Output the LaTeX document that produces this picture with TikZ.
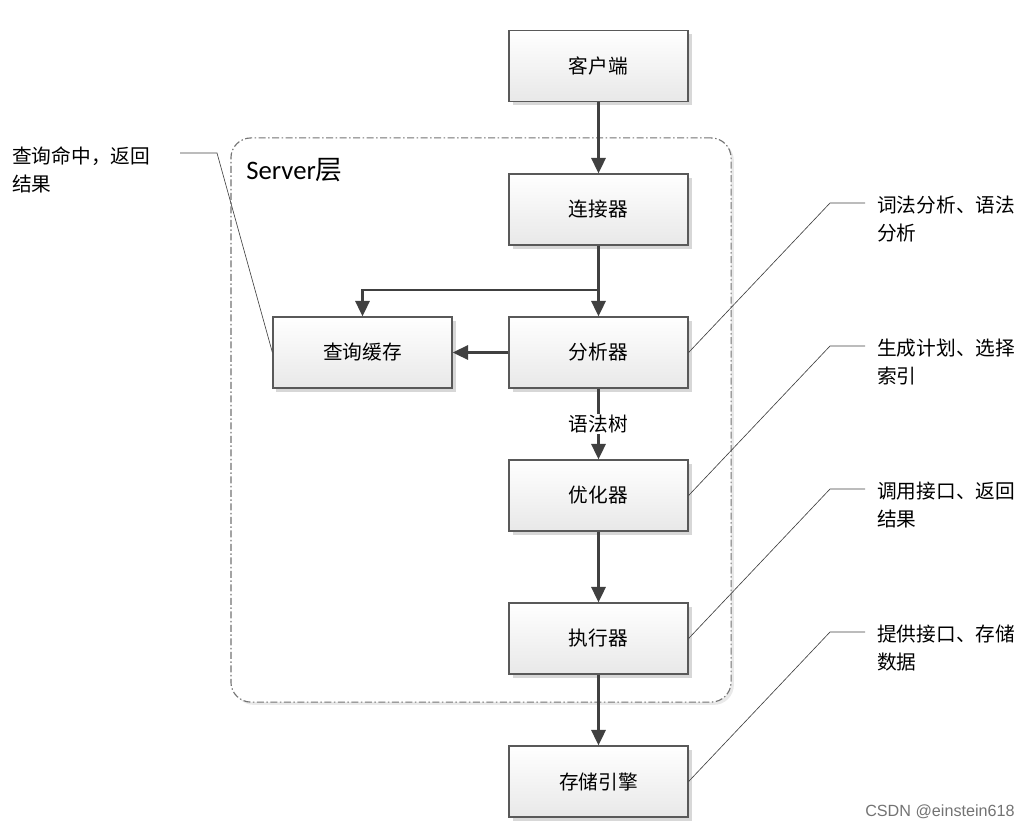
\documentclass[tikz,border=0pt]{standalone}
\usepackage{fontspec}
\setmainfont{Noto Sans CJK SC}
\newfontfamily\latinfont{Carlito}
\newfontfamily\markfont{Liberation Sans}
\usetikzlibrary{positioning,shadows,arrows.meta}
\tikzset{stage/.style={draw=black!65,line width=0.8pt,top color=white,bottom color=black!9,
  minimum width=4.475cm,minimum height=1.775cm,inner sep=0pt,font=\fontsize{14}{18}\selectfont,
  drop shadow={shadow xshift=2.5pt,shadow yshift=-2.5pt,fill=black!22,opacity=0.7}}}
\tikzset{layer/.style={draw=black!55,fill=white,line width=0.8pt,rounded corners=0.5cm,
  dash pattern=on 5pt off 1.8pt on 1pt off 1.8pt,minimum width=12.5cm,minimum height=14.1cm,
  drop shadow={shadow xshift=2pt,shadow yshift=-2pt,fill=black!12,opacity=0.7,solid}}}
\tikzset{flow/.style={draw=black!75,line width=2pt,-{Triangle[length=11pt,width=10pt]}}}
\tikzset{note/.style={draw=black!75,line width=0.45pt}}
\tikzset{remark/.style={align=left,anchor=north west,inner sep=0pt,font=\fontsize{14}{20}\selectfont}}

\begin{document}
\begin{tikzpicture}[x=0.025cm,y=-0.025cm]
\useasboundingbox (0,0) rectangle (1029,829);
% Server layer
\node[layer] (server) at (481,420) {};
\node[anchor=west,inner sep=0pt,font=\fontsize{19}{22}\selectfont] (title) at (246,170) {{\latinfont Server}层};

% main chain
\node[stage] (client) at (598.5,66) {客户端};
\node[stage] (conn) at (598.5,209.5) {连接器};
\node[stage] (ana) at (598.5,352.5) {分析器};
\node[stage] (cache) at (362.5,352.5) {查询缓存};
\node[stage] (opt) at (598.5,495.5) {优化器};
\node[stage] (exec) at (598.5,638.5) {执行器};
\node[stage] (store) at (598.5,781.5) {存储引擎};

\coordinate (split) at (598.5,290);
\draw[flow] (client) -- (conn);
\draw[flow] (conn) -- (ana);
\draw[flow] (split) -| (cache);
\draw[flow] (ana) -- (cache);
\draw[flow] (ana) -- node[fill=white,inner sep=1pt,font=\fontsize{14}{18}\selectfont] (tree) {语法树} (opt);
\draw[flow] (opt) -- (exec);
\draw[flow] (exec) -- (store);

% remarks
\node[remark] (hit) at (12,146) {查询命中，返回\\结果};
\node[remark] (lex) at (877,196) {词法分析、语法\\分析};
\node[remark] (plan) at (877,339) {生成计划、选择\\索引};
\node[remark] (call) at (877,482) {调用接口、返回\\结果};
\node[remark] (give) at (877,625) {提供接口、存储\\数据};

\coordinate (hitA) at (217,153); \coordinate (hitB) at (180,153);
\coordinate (lexA) at (830,203); \coordinate (lexB) at (865,203);
\coordinate (planA) at (830,346); \coordinate (planB) at (865,346);
\coordinate (callA) at (830,489); \coordinate (callB) at (865,489);
\coordinate (giveA) at (830,632); \coordinate (giveB) at (865,632);
\draw[note] (cache.west) -- (hitA) -- (hitB);
\draw[note] (ana.east) -- (lexA) -- (lexB);
\draw[note] (opt.east) -- (planA) -- (planB);
\draw[note] (exec.east) -- (callA) -- (callB);
\draw[note] (store.east) -- (giveA) -- (giveB);

\node[anchor=east,inner sep=0pt,text=black!55,font=\markfont\fontsize{11.5}{14}\selectfont] (mark) at (1015,812) {CSDN @einstein618};
\end{tikzpicture}
\end{document}
